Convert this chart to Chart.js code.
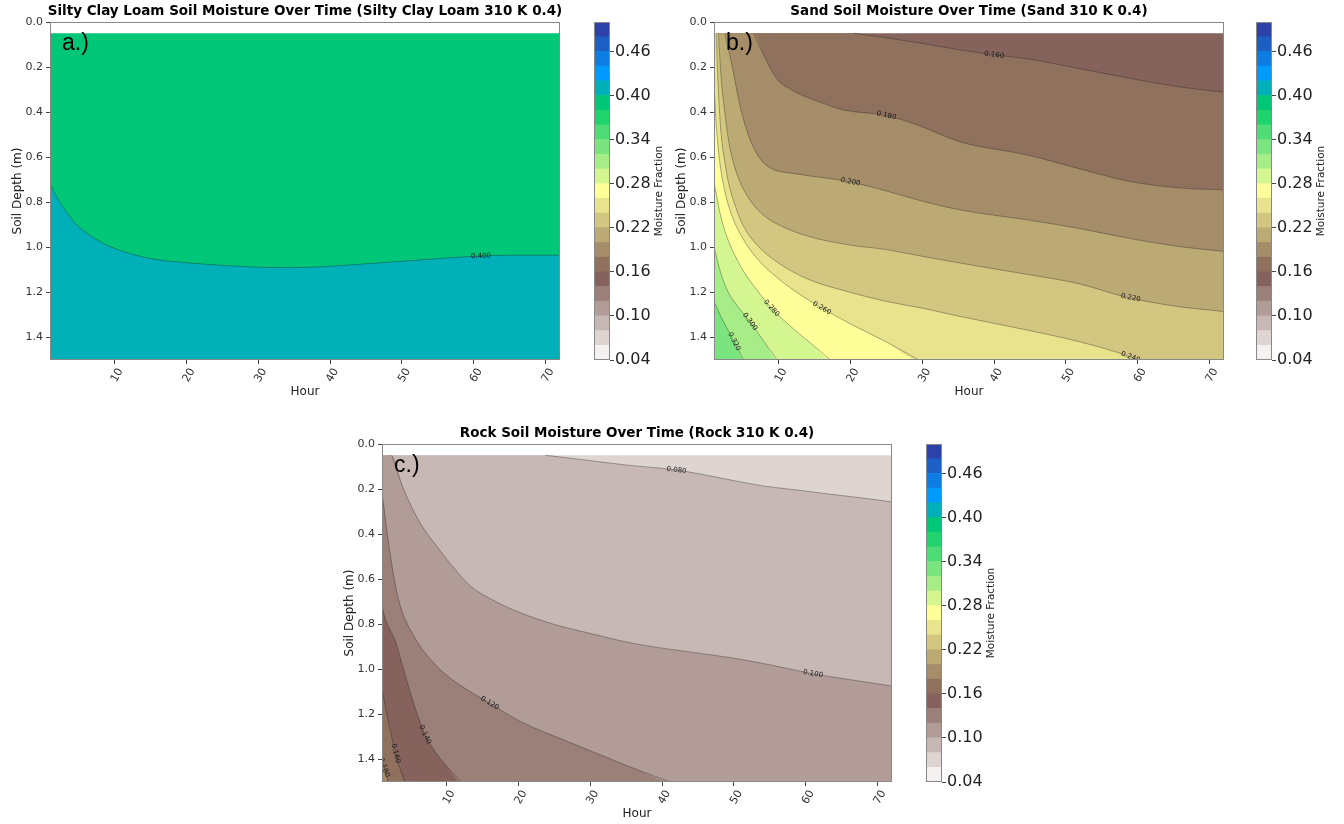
<!DOCTYPE html>
<html>
<head>
<meta charset="utf-8">
<title>Soil Moisture Over Time</title>
<script src="https://cdn.jsdelivr.net/npm/chart.js@4.4.1/dist/chart.umd.min.js"></script>
<style>
    html, body { margin: 0; padding: 0; background: #fff; overflow: hidden; }
    canvas { position: absolute; }
</style>
</head>
<body>
<canvas id="loamChart" width="580" height="405" style="left:0px;top:0px"></canvas>
<canvas id="loamBar" width="100" height="405" style="left:580px;top:0px"></canvas>
<canvas id="sandChart" width="580" height="405" style="left:664px;top:0px"></canvas>
<canvas id="sandBar" width="100" height="405" style="left:1242px;top:0px"></canvas>
<canvas id="rockChart" width="580" height="405" style="left:332px;top:422px"></canvas>
<canvas id="rockBar" width="100" height="405" style="left:912px;top:422px"></canvas>
<script>
// axes
const hourTicks = [10, 20, 30, 40, 50, 60, 70];
const depthTicks = [0.0, 0.2, 0.4, 0.6, 0.8, 1.0, 1.2, 1.4];
const levels = [0.04, 0.06, 0.08, 0.10, 0.12, 0.14, 0.16, 0.18, 0.20, 0.22, 0.24, 0.26,
                0.28, 0.30, 0.32, 0.34, 0.36, 0.38, 0.40, 0.42, 0.44, 0.46, 0.48, 0.50];
const barTicks = [0.04, 0.10, 0.16, 0.22, 0.28, 0.34, 0.40, 0.46];

// contour lines as [hour, depth] pairs
// a.) silty clay loam
const loamLevels = [0.40];
const loam400 = [[1, 0.72], [2, 0.78], [3, 0.83], [4.7, 0.9], [6, 0.935], [8, 0.975], [10, 1.005],
                 [15, 1.05], [20, 1.068], [25, 1.08], [30, 1.088], [35, 1.09], [40, 1.084], [45, 1.073],
                 [50, 1.062], [55, 1.05], [60, 1.04], [65, 1.035], [72, 1.035]];
const loamLabelHours = [61];

// b.) sand
const sandLevels = [0.16, 0.18, 0.20, 0.22, 0.24, 0.26, 0.28, 0.30, 0.32];
const sand160 = [[20.4, 0.05], [25, 0.07], [30, 0.095], [35.3, 0.124], [40, 0.146], [44.6, 0.163],
                 [51.6, 0.205], [58.6, 0.248], [65.6, 0.287], [72, 0.312]];
const sand180 = [[6.5, 0.05], [7.9, 0.146], [9.7, 0.25], [12, 0.305], [15.3, 0.35], [19, 0.39], [25, 0.415],
                 [29.3, 0.457], [35.3, 0.532], [44.6, 0.59], [51.6, 0.649], [58.6, 0.706], [65.6, 0.736], [72, 0.745]];
const sand200 = [[2.5, 0.05], [3.5, 0.19], [4.6, 0.37], [6, 0.52], [7.5, 0.61], [9, 0.65], [12, 0.672],
                 [16, 0.69], [20, 0.71], [25, 0.75], [30, 0.795], [35.3, 0.834], [44.6, 0.878], [51.6, 0.915],
                 [58.6, 0.959], [65.6, 0.996], [72, 1.018]];
const sand220 = [[1.6, 0.05], [2, 0.25], [2.5, 0.4], [3, 0.52], [3.5, 0.6], [4.5, 0.7], [6, 0.79], [8, 0.86],
                 [10, 0.9], [14, 0.95], [20, 0.99], [25, 1.01], [30, 1.04], [35.3, 1.07], [44.6, 1.12],
                 [51.6, 1.16], [58.3, 1.22], [65, 1.26], [72, 1.285]];
const sand240 = [[1.3, 0.05], [1.6, 0.3], [2, 0.5], [2.5, 0.62], [3, 0.71], [4, 0.82], [5, 0.9], [7, 0.99],
                 [10, 1.07], [14, 1.14], [20, 1.2], [25, 1.24], [30, 1.27], [35.3, 1.307], [45, 1.37],
                 [52, 1.42], [58.8, 1.484], [60, 1.5]];
const sand260 = [[1, 0.26], [1.3, 0.45], [1.8, 0.62], [2.5, 0.75], [3.5, 0.86], [5, 0.96], [7, 1.05],
                 [10, 1.14], [13, 1.21], [16, 1.27], [20, 1.34], [25, 1.42], [29.5, 1.5]];
const sand280 = [[1, 0.71], [2, 0.87], [3, 0.97], [5, 1.1], [7, 1.19], [9, 1.27], [12, 1.36], [15, 1.44], [17.2, 1.5]];
const sand300 = [[1, 1.0], [2, 1.12], [3, 1.2], [4.5, 1.27], [6, 1.33], [8, 1.42], [9.8, 1.5]];
const sand320 = [[1, 1.24], [2, 1.31], [3, 1.37], [4, 1.43], [5.1, 1.5]];
const sandLabelHours = [40, 25, 20, 59, 59, 16, 9, 6, 3.8];

// c.) rock
const rockLevels = [0.08, 0.10, 0.12, 0.14, 0.16, 0.18];
const rock080 = [[23.7, 0.05], [27, 0.062], [31, 0.078], [35.5, 0.095], [40, 0.108], [43, 0.12], [48, 0.15],
                 [54, 0.186], [59, 0.205], [63.4, 0.223], [68, 0.24], [72, 0.257]];
const rock100 = [[2.35, 0.05], [4, 0.2], [6.3, 0.35], [8.6, 0.453], [11, 0.55], [13.3, 0.63], [16.7, 0.697],
                 [20.2, 0.748], [24.9, 0.8], [29.5, 0.837], [36, 0.885], [42, 0.915], [49.5, 0.948],
                 [55, 0.98], [61, 1.02], [66, 1.045], [72, 1.074]];
const rock120 = [[1, 0.216], [2.1, 0.48], [3.3, 0.69], [5.4, 0.85], [8.6, 0.985], [11.4, 1.06], [16, 1.15],
                 [20.2, 1.23], [27.2, 1.325], [33, 1.4], [36.9, 1.45], [41.1, 1.5]];
const rock140 = [[1, 0.72], [1.5, 0.78], [2.8, 0.87], [4, 1.0], [5.4, 1.15], [7, 1.29], [8.5, 1.37], [10, 1.43], [12, 1.5]];
const rock160 = [[1, 1.09], [2, 1.25], [2.9, 1.373], [3.5, 1.44], [4.2, 1.5]];
const rock180 = [[1, 1.4], [1.5, 1.46], [1.9, 1.5]];
const rockLabelHours = [42, 61, 16, 7, 2.9, 1.3];

const HOUR_MIN = 1, HOUR_MAX = 72, TOP = 0.05, BOTTOM = 1.5;
const LINE_COLOR = 'rgba(30, 30, 30, 0.45)';

Chart.defaults.font.family = "'DejaVu Sans', sans-serif";
Chart.defaults.color = '#333';

// terrain colormap, reversed
const TERRAIN = [[0, [0.2, 0.2, 0.6]], [0.15, [0, 0.6, 1]], [0.25, [0, 0.8, 0.4]],
                 [0.5, [1, 1, 0.6]], [0.75, [0.5, 0.36, 0.33]], [1, [1, 1, 1]]];

function terrain(t) {
    for (let i = 1; i < TERRAIN.length; i++) {
        if (t <= TERRAIN[i][0]) {
            const [t0, c0] = TERRAIN[i - 1];
            const [t1, c1] = TERRAIN[i];
            const f = (t - t0) / (t1 - t0);
            const c = c0.map((v, j) => Math.round(255 * (v + (c1[j] - v) * f)));
            return `rgb(${c[0]}, ${c[1]}, ${c[2]})`;
        }
    }
    return 'rgb(255, 255, 255)';
}

function bandColor(i) {
    return terrain(1 - (i + 0.5) / (levels.length - 1));
}

function bandIndex(v) {
    return Math.round((v - levels[0]) / 0.02);
}

// pad a line out to the plot edges so its fill covers the whole band
function toFillPoints(pairs) {
    const pts = pairs.map(p => ({ x: p[0], y: p[1] }));
    if (pts[0].x > HOUR_MIN) pts.unshift({ x: HOUR_MIN, y: TOP });
    if (pts[pts.length - 1].x < HOUR_MAX) pts.push({ x: HOUR_MAX, y: BOTTOM });
    return pts;
}

function interp(pairs, h) {
    if (h <= pairs[0][0]) return pairs[0][1];
    for (let i = 1; i < pairs.length; i++) {
        if (h <= pairs[i][0]) {
            const f = (h - pairs[i - 1][0]) / (pairs[i][0] - pairs[i - 1][0]);
            return pairs[i - 1][1] + (pairs[i][1] - pairs[i - 1][1]) * f;
        }
    }
    return pairs[pairs.length - 1][1];
}

function decoPlugin(title, tag, lineLevels, lines, labelHours) {
    return {
        id: 'deco',
        afterDatasetsDraw(chart) {
            const { ctx, chartArea: a, scales: { x, y } } = chart;
            ctx.save();
            ctx.beginPath();
            ctx.rect(a.left, a.top, a.width, a.height);
            ctx.clip();
            ctx.font = "7px 'DejaVu Sans'";
            ctx.fillStyle = '#1a1a1a';
            ctx.textAlign = 'center';
            ctx.textBaseline = 'middle';
            lines.forEach((pairs, k) => {
                const h = labelHours[k];
                const px = x.getPixelForValue(h);
                const py = y.getPixelForValue(interp(pairs, h));
                const x0 = x.getPixelForValue(h - 0.6), y0 = y.getPixelForValue(interp(pairs, h - 0.6));
                const x1 = x.getPixelForValue(h + 0.6), y1 = y.getPixelForValue(interp(pairs, h + 0.6));
                ctx.save();
                ctx.translate(px, py);
                ctx.rotate(Math.atan2(y1 - y0, x1 - x0));
                ctx.fillText(lineLevels[k].toFixed(3), 0, 0);
                ctx.restore();
            });
            ctx.restore();
        },
        afterDraw(chart) {
            const { ctx, chartArea: a } = chart;
            ctx.save();
            ctx.strokeStyle = '#888';
            ctx.lineWidth = 1;
            ctx.strokeRect(a.left + 0.5, a.top + 0.5, a.width - 1, a.height - 1);
            ctx.fillStyle = '#000';
            ctx.font = "bold 13.5px 'DejaVu Sans'";
            ctx.textAlign = 'center';
            ctx.textBaseline = 'middle';
            ctx.fillText(title, (a.left + a.right) / 2, a.top - 11);
            ctx.font = "23px 'Liberation Sans Narrow', 'Liberation Sans', sans-serif";
            ctx.textAlign = 'left';
            ctx.textBaseline = 'top';
            ctx.fillText(tag, a.left + 12, a.top + 10);
            ctx.restore();
        }
    };
}

function makePanel(id, title, tag, lineLevels, lines, labelHours) {
    // lowest band first, then each contour filled down to the bottom, strokes on top
    const datasets = [{
        data: [{ x: HOUR_MIN, y: TOP }, { x: HOUR_MAX, y: TOP }],
        backgroundColor: bandColor(bandIndex(lineLevels[0]) - 1),
        borderWidth: 0,
        pointRadius: 0,
        fill: { value: BOTTOM },
        order: 100
    }];
    lines.forEach((pairs, k) => {
        datasets.push({
            data: toFillPoints(pairs),
            backgroundColor: bandColor(bandIndex(lineLevels[k])),
            borderWidth: 0,
            pointRadius: 0,
            cubicInterpolationMode: 'monotone',
            fill: { value: BOTTOM },
            order: 50 - k
        });
        datasets.push({
            data: pairs.map(p => ({ x: p[0], y: p[1] })),
            borderColor: LINE_COLOR,
            borderWidth: 0.8,
            pointRadius: 0,
            cubicInterpolationMode: 'monotone',
            fill: false,
            order: 0
        });
    });

    new Chart(document.getElementById(id), {
        type: 'line',
        data: { datasets },
        options: {
            responsive: false,
            animation: false,
            events: [],
            layout: { padding: { top: 22, right: 20, left: 0, bottom: 0 } },
            plugins: { legend: { display: false }, tooltip: { enabled: false } },
            scales: {
                x: {
                    type: 'linear',
                    min: HOUR_MIN,
                    max: HOUR_MAX,
                    afterBuildTicks: s => { s.ticks = hourTicks.map(v => ({ value: v })); },
                    afterFit: s => { s.height = 45; },
                    ticks: { minRotation: 60, maxRotation: 60, labelOffset: 6, color: '#333', font: { size: 11 }, padding: 2 },
                    grid: { drawOnChartArea: false, tickLength: 4, color: '#444' },
                    border: { display: false },
                    title: { display: true, text: 'Hour', color: '#222', font: { size: 12 }, padding: { top: 0, bottom: 6 } }
                },
                y: {
                    type: 'linear',
                    reverse: true,
                    min: 0,
                    max: BOTTOM,
                    afterBuildTicks: s => { s.ticks = depthTicks.map(v => ({ value: v })); },
                    afterFit: s => { s.width = 50; },
                    ticks: { color: '#333', font: { size: 11 }, padding: 3, callback: v => v.toFixed(1) },
                    grid: { drawOnChartArea: false, tickLength: 4, color: '#444' },
                    border: { display: false },
                    title: { display: true, text: 'Soil Depth (m)', color: '#222', font: { size: 12 }, padding: { top: 11, bottom: 0 } }
                }
            }
        },
        plugins: [decoPlugin(title, tag, lineLevels, lines, labelHours)]
    });
}

const colorbarDeco = {
    id: 'colorbarDeco',
    afterDraw(chart) {
        const { ctx, chartArea: a } = chart;
        ctx.save();
        ctx.strokeStyle = '#888';
        ctx.lineWidth = 1;
        ctx.strokeRect(a.left + 0.5, a.top + 0.5, a.width - 1, a.height - 1);
        ctx.translate(a.right + 49, (a.top + a.bottom) / 2);
        ctx.rotate(-Math.PI / 2);
        ctx.fillStyle = '#222';
        ctx.font = "10.5px 'DejaVu Sans'";
        ctx.textAlign = 'center';
        ctx.textBaseline = 'middle';
        ctx.fillText('Moisture Fraction', 0, 0);
        ctx.restore();
    }
};

function makeColorbar(id) {
    const datasets = levels.slice(0, -1).map((lo, i) => ({
        data: [[lo, levels[i + 1]]],
        backgroundColor: bandColor(i),
        borderWidth: 0,
        barPercentage: 1,
        categoryPercentage: 1,
        grouped: false
    }));

    new Chart(document.getElementById(id), {
        type: 'bar',
        data: { labels: [''], datasets },
        options: {
            responsive: false,
            animation: false,
            events: [],
            layout: { padding: { left: 14, top: 22, bottom: 45, right: 0 } },
            plugins: { legend: { display: false }, tooltip: { enabled: false } },
            scales: {
                x: { display: false },
                y: {
                    position: 'right',
                    min: levels[0],
                    max: levels[levels.length - 1],
                    afterBuildTicks: s => { s.ticks = barTicks.map(v => ({ value: v })); },
                    afterFit: s => { s.width = 70; },
                    ticks: { color: '#222', font: { size: 16 }, padding: 1, callback: v => v.toFixed(2) },
                    grid: { drawOnChartArea: false, tickLength: 4, color: '#444' },
                    border: { display: false }
                }
            }
        },
        plugins: [colorbarDeco]
    });
}

makePanel('loamChart', 'Silty Clay Loam Soil Moisture Over Time (Silty Clay Loam 310 K 0.4)', 'a.)',
    loamLevels, [loam400], loamLabelHours);
makePanel('sandChart', 'Sand Soil Moisture Over Time (Sand 310 K 0.4)', 'b.)',
    sandLevels, [sand160, sand180, sand200, sand220, sand240, sand260, sand280, sand300, sand320], sandLabelHours);
makePanel('rockChart', 'Rock Soil Moisture Over Time (Rock 310 K 0.4)', 'c.)',
    rockLevels, [rock080, rock100, rock120, rock140, rock160, rock180], rockLabelHours);
makeColorbar('loamBar');
makeColorbar('sandBar');
makeColorbar('rockBar');
</script>
</body>
</html>
